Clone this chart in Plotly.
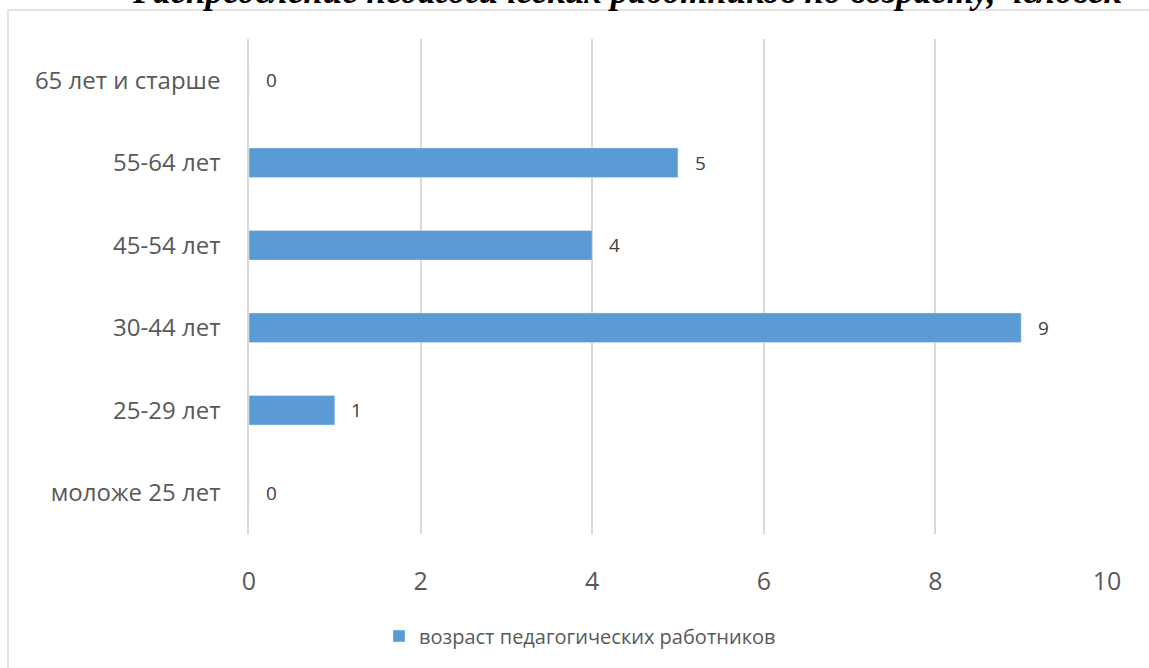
import plotly.graph_objects as go

categories = ["моложе 25 лет", "25-29 лет", "30-44 лет", "45-54 лет", "55-64 лет", "65 лет и старше"]
values = [0, 1, 9, 4, 5, 0]
series_name = "возраст педагогических работников"
title_text = "Распределение педагогических работников по возрасту, человек"
x_ticks = [0, 2, 4, 6, 8, 10]

W, H = 1149, 668
L, R, T, B = 249, 42, 39, 134
PW, PH = W - L - R, H - T - B

def px_x(p):
    return (p - L) / PW

def px_y(p):
    return (T + PH - p) / PH

fig = go.Figure()
fig.add_trace(go.Bar(
    y=categories, x=values, orientation="h", name=series_name,
    marker=dict(color="#5b9bd5"), showlegend=True,
))
for c, v in zip(categories, values):
    fig.add_annotation(x=v, y=c, xref="x", yref="y", text=str(v), showarrow=False,
                       xanchor="center", xshift=22,
                       font=dict(family="Open Sans", size=19, color="#404040"))

# chart border (extends past window on right and bottom)
fig.add_shape(type="rect", xref="paper", yref="paper",
              x0=px_x(8), x1=px_x(1175), y0=px_y(690), y1=px_y(10),
              line=dict(color="#d9d9d9", width=1.5), fillcolor="rgba(0,0,0,0)", layer="below")

fig.add_annotation(text=title_text, xref="paper", yref="paper",
                   x=px_x(627), y=px_y(13), xanchor="center", yanchor="bottom",
                   showarrow=False,
                   font=dict(family="Liberation Serif", size=35, color="#000000",
                             style="italic", weight="bold"))

fig.update_layout(
    width=W, height=H,
    margin=dict(l=L, r=R, t=T, b=B),
    paper_bgcolor="white", plot_bgcolor="white",
    bargap=0.64,
    showlegend=True,
    legend=dict(orientation="h", xref="container", yref="container",
                x=580 / W, y=1 - 636 / H, xanchor="center", yanchor="middle",
                font=dict(family="Open Sans", size=20, color="#595959")),
    xaxis=dict(range=[0, 10], tickvals=x_ticks, showgrid=True, gridcolor="#d9d9d9", gridwidth=1.5,
               zeroline=False, showline=False, ticks="",
               tickfont=dict(family="Open Sans", size=25, color="#595959"),
               ticklabelstandoff=30),
    yaxis=dict(categoryorder="array", categoryarray=categories, showgrid=False, zeroline=False,
               showline=True, linecolor="#d9d9d9", linewidth=1.5, ticks="",
               tickfont=dict(family="Open Sans", size=24, color="#595959"),
               ticklabelstandoff=22),
)
fig.write_html("out.html", config={"displayModeBar": False},
               post_script="document.body.style.margin='0px';document.body.style.overflow='hidden';")
